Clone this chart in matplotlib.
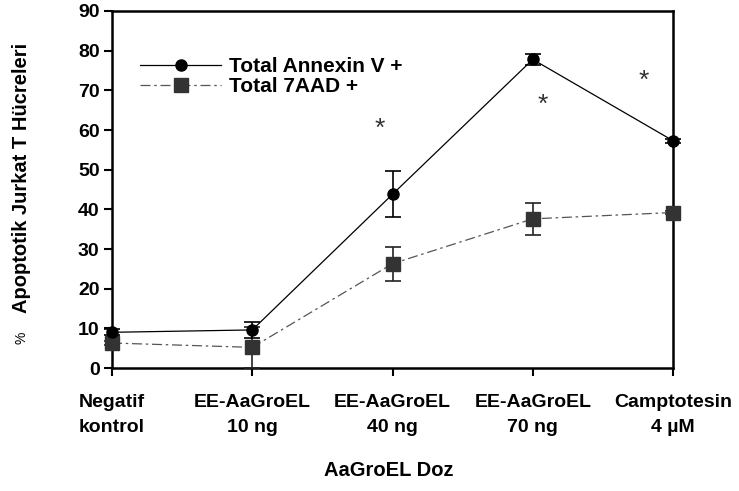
import numpy as np
import matplotlib.pyplot as plt
from matplotlib.lines import Line2D

plt.rcParams['font.family'] = ['Liberation Sans', 'DejaVu Sans']

groups = ['Negatif\nkontrol', 'EE-AaGroEL\n10 ng', 'EE-AaGroEL\n40 ng',
          'EE-AaGroEL\n70 ng', 'Camptotesin\n4 µM']
annexin = [9.0, 9.6, 43.8, 77.8, 57.3]
annexin_err = [0.8, 2.0, 5.8, 1.4, 0.5]
aad = [6.3, 5.2, 26.3, 37.6, 39.2]
aad_err = [0.5, 5.2, 4.3, 4.0, 0.5]

# significance marks: (x position, y position)
star_x = [1.91, 3.07, 3.79]
star_y = [60.3, 66.3, 72.4]

dashdot = (0, (8, 3, 2, 3))

fig = plt.figure(figsize=(7.39, 4.91), dpi=100)
ax = fig.add_axes([0.1516, 0.2505, 0.7591, 0.7271])

x = np.arange(len(groups))

ax.errorbar(x, annexin, yerr=annexin_err, color='black', lw=0.9,
            marker='o', ms=8, mfc='black', mec='black',
            ecolor='black', elinewidth=1.2, capsize=6, capthick=1.2,
            clip_on=False, zorder=4)
ax.errorbar(x, aad, yerr=aad_err, color='#555555', lw=0.9,
            ls=dashdot, marker='s', ms=10,
            mfc='#333333', mec='#333333',
            ecolor='#222222', elinewidth=1.2, capsize=6, capthick=1.2,
            clip_on=False, zorder=3)

for sx, sy in zip(star_x, star_y):
    ax.text(sx, sy, '*', fontsize=19, ha='center', va='center', color='#333333')

ax.set_xlim(0, 4)
ax.set_ylim(0, 90)
ax.set_yticks(np.arange(0, 91, 10))
ax.set_xticks(x)
ax.set_xticklabels(groups, fontweight='bold', fontsize=14, linespacing=1.55)
ax.tick_params(axis='y', labelsize=14, width=1.5, length=6, direction='out', pad=3)
ax.tick_params(axis='x', width=1.5, length=6, direction='out', pad=13)
for lbl in ax.get_yticklabels():
    lbl.set_fontweight('bold')

for side in ['left', 'right', 'top', 'bottom']:
    ax.spines[side].set_linewidth(1.8)

# axis titles
fig.text(389 / 739, 1 - 470 / 491, 'AaGroEL Doz', fontweight='bold',
         fontsize=14.5, ha='center', va='center')
fig.text(22 / 739, 1 - 178 / 491, 'Apoptotik Jurkat T Hücreleri',
         fontweight='bold', fontsize=14.5, rotation=90, ha='center', va='center')
fig.text(22 / 739, 1 - 338 / 491, '%', fontsize=10, rotation=90,
         ha='center', va='center')

handles = [
    Line2D([], [], color='black', lw=0.9, marker='o', ms=8),
    Line2D([], [], color='#555555', lw=0.9, ls=dashdot, marker='s', ms=10,
           mfc='#333333', mec='#333333'),
]
ax.legend(handles, ['Total Annexin V +', 'Total 7AAD +'],
          loc='upper left', bbox_to_anchor=(0.05, 0.87), frameon=False,
          prop={'weight': 'bold', 'size': 15},
          handlelength=3.9, handletextpad=0.35, labelspacing=0.05,
          borderaxespad=0, borderpad=0)

fig.savefig('out.png', dpi=100)
